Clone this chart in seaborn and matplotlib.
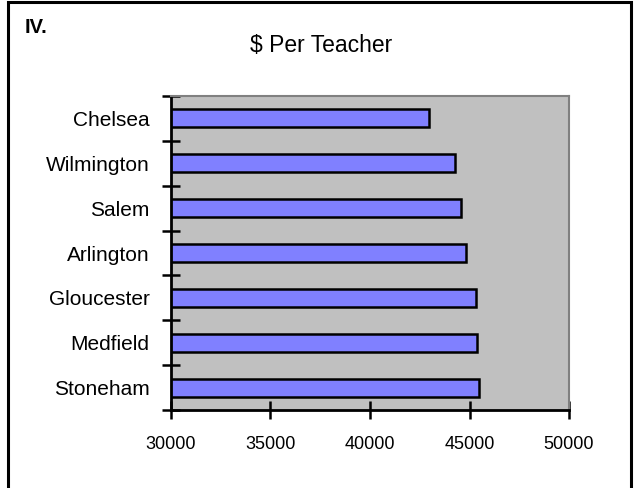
import numpy as np
import pandas as pd
import matplotlib
matplotlib.use("Agg")
import matplotlib.pyplot as plt
import seaborn as sns
from matplotlib.patches import Rectangle

towns = ["Chelsea", "Wilmington", "Salem", "Arlington", "Gloucester", "Medfield", "Stoneham"]
per_teacher = [42980, 44290, 44590, 44810, 45310, 45390, 45490]
x_ticks = [30000, 35000, 40000, 45000, 50000]

sns.set_style("white")
plt.rcParams['font.family'] = ['Liberation Sans', 'DejaVu Sans']
plt.rcParams['text.color'] = 'black'
plt.rcParams['xtick.color'] = 'black'
plt.rcParams['ytick.color'] = 'black'

df = pd.DataFrame({"town": towns, "value": per_teacher})

fig = plt.figure(figsize=(6.34, 4.88), dpi=100)
ax = fig.add_axes([0.2697, 0.1598, 0.6278, 0.6434])
ax.set_facecolor("#C0C0C0")

sns.barplot(data=df, x="value", y="town", order=towns, orient="h",
            color="#8080FF", edgecolor="black", linewidth=1.8,
            width=0.4, saturation=1, ax=ax)

ax.set_xlim(30000, 50000)
ax.set_ylim(6.5, -0.5)
ax.set_xticks(x_ticks)
ax.set_xticklabels([str(t) for t in x_ticks], fontsize=13)
ax.set_yticks(range(len(towns)))
ax.set_yticklabels(towns, fontsize=15)
ax.set_yticks(np.arange(-0.5, len(towns), 1), minor=True)
ax.tick_params(axis="both", which="both", bottom=True, left=True)
ax.tick_params(axis="y", which="major", length=0, pad=15.5)
ax.tick_params(axis="y", which="minor", length=13, width=1.8, direction="inout")
ax.tick_params(axis="x", which="major", length=13, width=1.8, direction="inout", pad=12)
ax.set_xlabel("")
ax.set_ylabel("")

for side in ["left", "bottom"]:
    ax.spines[side].set_color("black")
    ax.spines[side].set_linewidth(2)
for side in ["top", "right"]:
    ax.spines[side].set_color("#808080")
    ax.spines[side].set_linewidth(1.5)

fig.text(0.507, 0.906, "$ Per Teacher", ha="center", va="center", fontsize=16.5)
fig.text(0.039, 0.944, "IV.", ha="left", va="center", fontsize=14.5, fontweight="bold")

# outer frame, cut off at the bottom like the reference
fig.patches.append(Rectangle((8 / 634, -0.05), 623 / 634, 1.05 - 1.5 / 488,
                             transform=fig.transFigure, fill=False,
                             edgecolor="black", linewidth=2.2))

fig.savefig("out.png", dpi=100)
